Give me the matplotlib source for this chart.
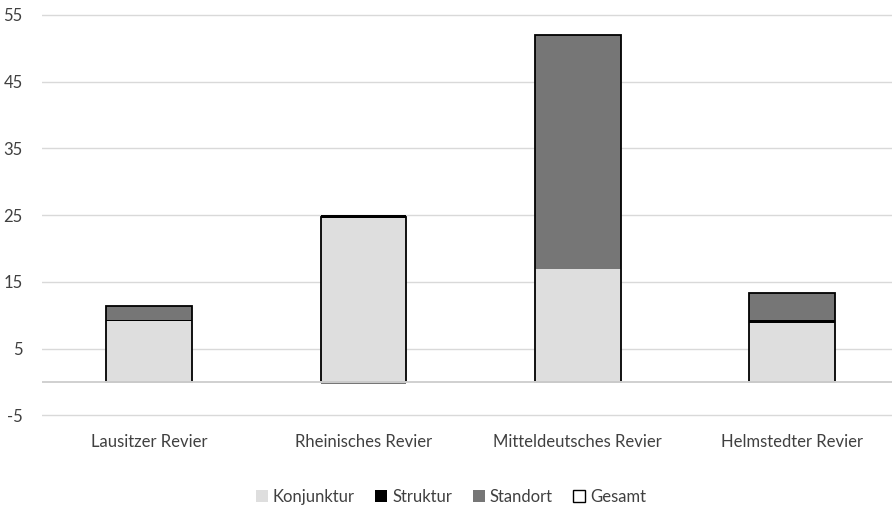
import matplotlib
matplotlib.use("Agg")
import matplotlib.pyplot as plt
from matplotlib.patches import Patch
import numpy as np

categories = ["Lausitzer Revier", "Rheinisches Revier", "Mitteldeutsches Revier", "Helmstedter Revier"]
konjunktur = [9.2, 24.6, 16.9, 8.8]
struktur = [0.1, 0.45, 0.1, 0.45]
standort = [2.1, -0.35, 35.0, 4.1]
gesamt = [11.4, 24.7, 52.0, 13.35]
yticks = [-5, 5, 15, 25, 35, 45, 55]

plt.rcParams['font.family'] = ['Lato', 'DejaVu Sans']
text_color = '#404040'

fig = plt.figure(figsize=(8.92, 5.09), dpi=100)
W, H = 892, 509
ppu = (415.3 - 15) / 60.0
ymin, ymax = -5.3, 55.3
top_px = 15 - 0.3 * ppu
bot_px = 415.3 + 0.3 * ppu
ax = fig.add_axes([42 / W, (H - bot_px) / H, (892 - 42) / W, (bot_px - top_px) / H])

x = np.arange(len(categories))
width = 0.40
colors = {'Konjunktur': '#dedede', 'Struktur': '#000000', 'Standort': '#767676'}

pos_bottom = np.zeros(len(categories))
neg_bottom = np.zeros(len(categories))
for name, vals in [('Konjunktur', konjunktur), ('Struktur', struktur), ('Standort', standort)]:
    vals = np.array(vals, dtype=float)
    bottoms = np.where(vals >= 0, pos_bottom, neg_bottom)
    ax.bar(x, vals, width, bottom=bottoms, color=colors[name], linewidth=0, zorder=3)
    pos_bottom = pos_bottom + np.where(vals >= 0, vals, 0)
    neg_bottom = neg_bottom + np.where(vals < 0, vals, 0)

ax.bar(x, gesamt, width, facecolor='none', edgecolor='black', linewidth=1.3, zorder=4)

ax.set_xlim(-0.5, 3.466)
ax.set_ylim(ymin, ymax)
ax.set_yticks(yticks)
ax.set_yticklabels([str(t) for t in yticks])
ax.yaxis.grid(True, color='#d9d9d9', linewidth=1.0, zorder=0)
ax.axhline(0, color='#d0d0d0', linewidth=1.4, zorder=5)
for s in ax.spines.values():
    s.set_visible(False)
ax.tick_params(axis='y', length=0, pad=14, labelsize=12, labelcolor=text_color)
ax.set_xticks(x)
ax.set_xticklabels(categories)
ax.tick_params(axis='x', length=0, pad=12, labelsize=12, labelcolor=text_color)

handles = [Patch(facecolor='#dedede', edgecolor='none', label='Konjunktur'),
           Patch(facecolor='#000000', edgecolor='none', label='Struktur'),
           Patch(facecolor='#767676', edgecolor='none', label='Standort'),
           Patch(facecolor='white', edgecolor='black', linewidth=1.0, label='Gesamt')]
leg = fig.legend(handles=handles, loc='center', bbox_to_anchor=(451 / W, 1 - 497 / H), ncol=4,
                 frameon=False, fontsize=12, handlelength=0.7, handleheight=0.7,
                 handletextpad=0.3, columnspacing=1.25, labelcolor=text_color)

fig.savefig("out.png", dpi=100)
